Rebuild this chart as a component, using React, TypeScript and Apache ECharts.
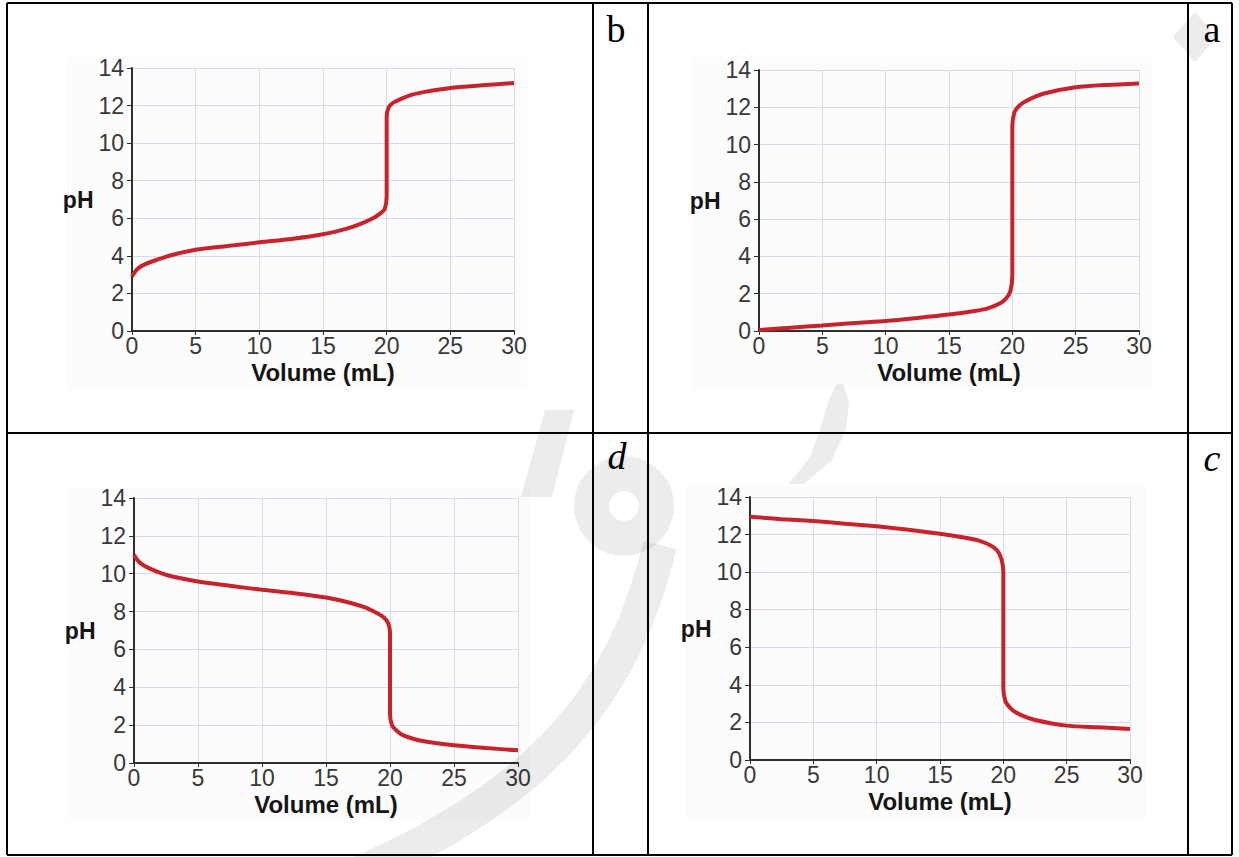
import React, { useEffect, useRef } from "react";
import * as echarts from "echarts";

// ---- data ----
const xTicks = [0, 5, 10, 15, 20, 25, 30];
const yTicks = [0, 2, 4, 6, 8, 10, 12, 14];

// b: weak acid titrated with strong base
const volB = [0, 0.2, 0.5, 1, 2, 3, 5, 7.5, 10, 12.5, 15, 17, 18, 19, 19.5, 19.85, 20, 20, 20.15, 20.5, 21, 22, 23, 25, 27.5, 30];
const phB = [2.9, 3.12, 3.35, 3.55, 3.8, 4.02, 4.32, 4.52, 4.72, 4.9, 5.15, 5.48, 5.72, 6.03, 6.26, 6.5, 7.2, 11.4, 11.9, 12.15, 12.32, 12.58, 12.73, 12.94, 13.08, 13.2];

// a: strong acid titrated with strong base
const volA = [0, 2.5, 5, 7.5, 10, 12.5, 15, 17, 18, 19, 19.5, 19.85, 20, 20, 20.15, 20.4, 20.8, 21.5, 22.5, 25, 27.5, 30];
const phA = [0.05, 0.18, 0.3, 0.43, 0.54, 0.7, 0.88, 1.07, 1.2, 1.47, 1.74, 2.15, 3.0, 11.0, 11.7, 11.98, 12.22, 12.48, 12.74, 13.07, 13.2, 13.28];

// d: weak base titrated with strong acid
const volD = [0, 0.2, 0.5, 1, 2, 3, 5, 7.5, 10, 12.5, 15, 17, 18, 19, 19.5, 19.85, 20, 20, 20.15, 20.5, 21, 22, 23, 25, 27.5, 30];
const phD = [11.0, 10.78, 10.56, 10.35, 10.06, 9.85, 9.59, 9.36, 9.15, 8.97, 8.74, 8.44, 8.23, 7.91, 7.7, 7.4, 6.9, 2.6, 2.0, 1.72, 1.47, 1.24, 1.11, 0.94, 0.79, 0.67];

// c: strong base titrated with strong acid
const volC = [0, 2.5, 5, 7.5, 10, 12.5, 15, 17, 18, 19, 19.5, 19.85, 20, 20, 20.15, 20.4, 20.8, 21.5, 22.5, 25, 27.5, 30];
const phC = [12.95, 12.82, 12.72, 12.58, 12.44, 12.26, 12.04, 11.83, 11.69, 11.42, 11.16, 10.7, 10.0, 3.8, 3.15, 2.88, 2.62, 2.36, 2.13, 1.83, 1.74, 1.65];

const panelLetters = ["b", "a", "d", "c"];
const xName = "Volume (mL)";
const yName = "pH";

// layout of the four panels (pixels)
const grids = [
  { left: 132, top: 68, width: 382, height: 263 },
  { left: 759, top: 70, width: 380, height: 261 },
  { left: 134, top: 498, width: 384, height: 265 },
  { left: 750, top: 497, width: 380, height: 263 },
];

const TICKFONT = "'Liberation Sans', Arial, sans-serif";
const BOLD = "'Liberation Sans', Arial, sans-serif";
const WM = "rgba(0,0,0,0.075)";

export default function App() {
  const ref = useRef<HTMLDivElement>(null);
  useEffect(() => {
    if (!ref.current) return;
    const chart = echarts.init(ref.current, undefined, { renderer: "svg" });
    const series = [
      [volB, phB],
      [volA, phA],
      [volD, phD],
      [volC, phC],
    ];
    const tickLabel = {
      fontSize: 23,
      color: "#383838",
      fontFamily: TICKFONT,
    };
    const xAxis = grids.map((_, i) => ({
      type: "value",
      gridIndex: i,
      min: 0,
      max: 30,
      interval: 5,
      axisLine: { show: true, onZero: false, lineStyle: { color: "#2e2e2e", width: 2 } },
      axisTick: { show: true, length: 4, lineStyle: { color: "#2e2e2e", width: 1 } },
      splitLine: { show: true, lineStyle: { color: "#d3ddec", width: 1 } },
      axisLabel: {
        ...tickLabel,
        margin: 3,
        formatter: (v: number) => (xTicks.includes(v) ? String(v) : ""),
      },
      name: xName,
      nameLocation: "middle",
      nameGap: 29,
      nameTextStyle: { fontWeight: "bold", fontSize: 24, color: "#151515", fontFamily: BOLD },
    }));
    const yAxis = grids.map((_, i) => ({
      type: "value",
      gridIndex: i,
      min: 0,
      max: 14,
      interval: 2,
      axisLine: { show: true, onZero: false, lineStyle: { color: "#2e2e2e", width: 2 } },
      axisTick: { show: true, length: 5, lineStyle: { color: "#2e2e2e", width: 1 } },
      splitLine: { show: true, lineStyle: { color: "#d3ddec", width: 1 } },
      axisLabel: {
        ...tickLabel,
        margin: 8,
        formatter: (v: number) => (yTicks.includes(v) ? String(v) : ""),
      },
      name: yName,
      nameLocation: "middle",
      nameRotate: 0,
      nameGap: 35,
      nameTextStyle: { fontWeight: "bold", fontSize: 23, color: "#151515", fontFamily: BOLD },
    }));

    const line = (x1: number, y1: number, x2: number, y2: number) => ({
      type: "line",
      shape: { x1, y1, x2, y2 },
      style: { stroke: "#000", lineWidth: 2 },
      z: 100,
    });

    const letterPos = [
      { x: 616, y: 29, italic: false },
      { x: 1212, y: 29, italic: false },
      { x: 617, y: 456, italic: true },
      { x: 1212, y: 458, italic: true },
    ];

    const bgRects = [
      [66, 57, 461, 333],
      [693, 57, 460, 333],
      [68, 487, 462, 333],
      [686, 485, 460, 333],
    ];

    // faint watermark shapes
    const watermark = [
      { type: "polygon", shape: { points: [[1173, 37], [1195, 12], [1217, 37], [1195, 62]] }, style: { fill: WM } },
      {
        type: "polygon",
        shape: { points: [[843, 383], [849, 402], [846, 430], [832, 460], [804, 484], [789, 484], [810, 457], [820, 430], [828, 402], [836, 385]] },
        style: { fill: WM },
      },
      {
        type: "polygon",
        shape: { points: [[545, 410], [574, 410], [552, 497], [521, 497]] },
        style: { fill: WM },
      },
      { type: "ring", shape: { cx: 624, cy: 506, r: 50, r0: 15 }, style: { fill: WM } },
      {
        type: "bezierCurve",
        shape: { x1: 660, y1: 545, cpx1: 625, cpy1: 690, cpx2: 545, cpy2: 800, x2: 330, y2: 885 },
        style: { stroke: WM, lineWidth: 34, fill: "none" },
      },
    ].map((e) => ({ ...e, z: 1, silent: true }));

    chart.setOption({
      animation: false,
      backgroundColor: "#ffffff",
      grid: grids.map((g) => ({ ...g, containLabel: false })),
      xAxis,
      yAxis,
      series: series.map(([xs, ys], i) => ({
        type: "line",
        xAxisIndex: i,
        yAxisIndex: i,
        data: xs.map((x, k) => [x, ys[k]]),
        showSymbol: false,
        symbol: "none",
        smooth: 0.25,
        lineStyle: { color: "#c8232c", width: 4 },
        z: 5,
      })),
      graphic: [
        ...bgRects.map(([x, y, w, h]) => ({
          type: "rect",
          shape: { x, y, width: w, height: h },
          style: { fill: "#fcfcfc" },
          z: -10,
          silent: true,
        })),
        ...watermark,
        line(7, 3, 1232, 3),
        line(7, 855, 1232, 855),
        line(7, 433, 1232, 433),
        line(7, 3, 7, 855),
        line(1232, 3, 1232, 855),
        line(593, 3, 593, 855),
        line(648, 3, 648, 855),
        line(1188, 3, 1188, 855),
        ...panelLetters.map((t, i) => ({
          type: "text",
          x: letterPos[i].x,
          y: letterPos[i].y,
          style: {
            text: t,
            font: `${letterPos[i].italic ? "italic " : ""}38px 'Liberation Serif', 'DejaVu Serif', serif`,
            fill: "#000",
            textAlign: "center",
            textVerticalAlign: "middle",
          },
          z: 100,
        })),
      ],
    });
    return () => chart.dispose();
  }, []);
  return (
    <div
      ref={ref}
      style={{ position: "absolute", left: 0, top: 0, width: 1239, height: 857, background: "#fff" }}
    />
  );
}
